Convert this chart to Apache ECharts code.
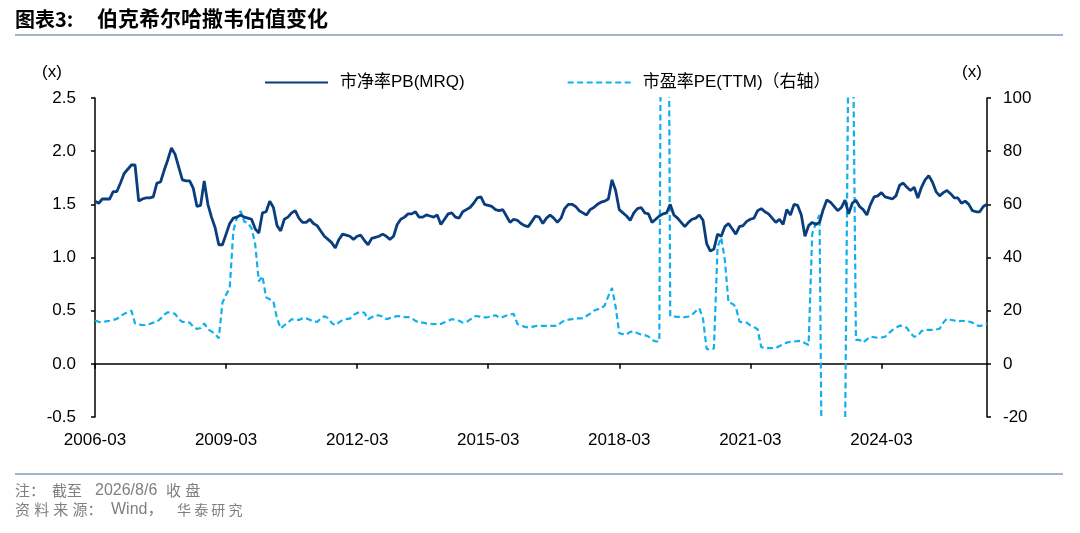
<!DOCTYPE html>
<html>
<head>
<meta charset="utf-8">
<script src="https://cdn.jsdelivr.net/npm/echarts@6/dist/echarts.min.js"></script>
<style>
html,body{margin:0;padding:0;background:#fff;}
#main{width:1080px;height:533px;}
</style>
</head>
<body>
<div id="main"></div>
<script>
// ---- data ----
const startYear = 2006, startMonth = 3, monthCount = 246; // 2006-03 .. 2026-08
const months = [];
for (let i = 0; i < monthCount; i++) {
  const t = (startMonth - 1) + i;
  const y = startYear + Math.floor(t / 12);
  const m = (t % 12) + 1;
  months.push(y + '-' + (m < 10 ? '0' + m : '' + m));
}

const seriesNames = ['市净率PB(MRQ)', '市盈率PE(TTM)（右轴）'];

const pbValues = [
  1.53,1.51,1.55,1.55,1.55,1.62,1.62,1.70,1.79,1.83,1.87,1.87,
  1.53,1.55,1.56,1.56,1.57,1.70,1.71,1.82,1.92,2.03,1.97,1.85,
  1.73,1.72,1.72,1.65,1.48,1.49,1.72,1.50,1.38,1.28,1.12,1.12,
  1.22,1.32,1.37,1.38,1.40,1.38,1.37,1.36,1.27,1.23,1.42,1.43,
  1.53,1.47,1.30,1.25,1.36,1.38,1.42,1.44,1.37,1.33,1.33,1.36,
  1.32,1.30,1.25,1.20,1.17,1.14,1.09,1.17,1.22,1.21,1.20,1.17,
  1.20,1.21,1.16,1.12,1.18,1.19,1.20,1.22,1.20,1.17,1.20,1.31,
  1.36,1.38,1.41,1.41,1.43,1.38,1.38,1.40,1.39,1.38,1.40,1.31,
  1.36,1.41,1.42,1.38,1.37,1.43,1.45,1.47,1.51,1.56,1.57,1.50,
  1.49,1.48,1.45,1.44,1.45,1.39,1.33,1.36,1.35,1.32,1.30,1.29,
  1.34,1.39,1.38,1.32,1.37,1.40,1.37,1.33,1.37,1.46,1.50,1.50,
  1.48,1.44,1.42,1.40,1.45,1.47,1.50,1.52,1.53,1.55,1.73,1.63,
  1.45,1.42,1.39,1.35,1.42,1.46,1.47,1.42,1.41,1.33,1.36,1.39,
  1.41,1.42,1.50,1.40,1.37,1.33,1.29,1.33,1.36,1.37,1.40,1.35,
  1.13,1.06,1.08,1.22,1.20,1.29,1.32,1.27,1.22,1.29,1.30,1.34,
  1.36,1.37,1.44,1.46,1.43,1.41,1.37,1.33,1.36,1.31,1.45,1.40,
  1.50,1.49,1.40,1.20,1.30,1.33,1.31,1.33,1.45,1.54,1.52,1.48,
  1.44,1.47,1.54,1.41,1.51,1.54,1.48,1.45,1.40,1.50,1.57,1.58,
  1.61,1.57,1.56,1.55,1.58,1.68,1.70,1.66,1.63,1.66,1.56,1.66,
  1.73,1.77,1.71,1.62,1.58,1.61,1.63,1.60,1.56,1.56,1.51,1.53,
  1.50,1.44,1.43,1.43,1.48,1.50
];

const peValues = [
  16.3,15.8,15.6,16.0,16.2,16.5,16.9,18.0,18.8,19.5,20.0,15.2,
  14.8,14.6,14.6,15.0,15.5,15.8,17.0,18.5,19.4,19.2,18.8,16.8,
  15.8,15.7,15.5,14.0,13.1,13.5,15.2,13.0,12.2,11.2,9.6,23.0,
  26.0,28.5,50.0,55.0,57.5,53.5,53.0,51.0,45.0,31.0,33.0,25.0,
  24.3,23.5,17.0,13.3,14.5,15.5,16.8,16.5,16.5,17.1,17.1,16.6,
  15.9,15.8,17.0,17.9,17.2,15.4,14.5,15.6,16.5,16.8,17.0,18.4,
  19.1,19.6,19.2,16.8,17.5,18.2,18.2,17.8,16.8,17.2,17.6,18.0,
  17.8,17.6,17.6,17.2,16.2,15.5,15.5,15.2,15.1,14.9,14.9,15.0,
  15.6,16.2,16.8,16.5,16.2,15.5,15.7,16.6,17.8,18.0,17.6,17.5,
  17.6,17.9,18.3,17.4,17.6,18.2,18.6,18.8,15.0,14.5,13.9,13.7,
  13.9,14.2,14.3,14.3,14.3,14.3,14.3,14.3,15.5,16.3,16.6,16.8,
  17.1,17.1,17.1,18.0,18.9,20.0,20.5,20.8,22.0,25.5,28.5,21.5,
  11.5,11.2,11.0,12.0,12.2,11.5,11.0,10.8,10.3,9.0,8.4,8.5,
  300,300,18.0,17.8,17.7,17.6,17.6,17.8,18.5,19.8,20.9,17.0,
  5.6,5.3,5.8,44.0,47.5,39.0,23.0,22.7,21.5,15.9,15.5,15.5,
  14.5,13.8,13.0,6.3,5.9,5.9,5.9,5.9,6.7,7.3,8.0,8.3,
  8.4,8.6,8.5,7.8,7.1,49.0,53.0,56.0,-100,-200,-200,-200,
  -200,-200,-30,130,150,9.0,9.0,8.0,9.2,10.2,10.0,9.8,
  9.9,10.2,11.5,12.7,13.5,14.4,14.2,13.5,11.5,10.2,10.5,12.3,
  12.75,12.75,12.8,12.9,13.2,15.5,17.0,16.6,16.3,15.9,16.2,16.0,
  15.9,15.5,14.5,14.2,14.6,15.3
];

const leftAxisTicks = { min: -0.5, max: 2.5, interval: 0.5 };
const rightAxisTicks = { min: -20, max: 100, interval: 20 };

// ---- chart ----
const FONT = "'Liberation Sans', Arial, 'Noto Sans CJK SC', sans-serif";
const FOOT = "15px 'Liberation Sans', 'Noto Sans CJK SC', sans-serif";
const chart = echarts.init(document.getElementById('main'), null, { renderer: 'canvas' });

function footText(x, y, t, font) {
  return { type: 'text', left: x, top: y, style: { text: t, font: font || FOOT, fill: '#7f7f7f' } };
}

const option = {
  backgroundColor: '#ffffff',
  animation: false,
  textStyle: { fontFamily: FONT },
  grid: { left: 95, right: 93, top: 98, bottom: 116, containLabel: false },
  legend: {
    data: seriesNames,
    left: 259,
    top: 69,
    itemWidth: 63,
    itemHeight: 14,
    itemGap: 102,
    itemStyle: { opacity: 0 },
    textStyle: { fontSize: 17, color: '#000', fontFamily: FONT, padding: [0, 0, 0, 7] }
  },
  graphic: [
    { type: 'text', left: 15, top: 9, style: { text: '图表3:', font: "bold 20px 'Noto Sans CJK SC', sans-serif", fill: '#000' } },
    { type: 'text', left: 97, top: 8, style: { text: '伯克希尔哈撒韦估值变化', font: "bold 21px 'Noto Sans CJK SC', sans-serif", fill: '#000' } },
    { type: 'line', shape: { x1: 15, y1: 35, x2: 1063, y2: 35 }, style: { stroke: '#9fb6cd', lineWidth: 2 } },
    { type: 'line', shape: { x1: 15, y1: 474, x2: 1063, y2: 474 }, style: { stroke: '#9fb6cd', lineWidth: 2 } },
    footText(15, 484, '注：'),
    footText(52, 484, '截至'),
    footText(95, 483, '2026/8/6', "16px 'Liberation Sans', sans-serif"),
    footText(166, 484, '收 盘'),
    footText(15, 503, '资 料 来 源：'),
    footText(111, 502, 'Wind，', "16px 'Liberation Sans', 'Noto Sans CJK SC', sans-serif"),
    footText(177, 503, '华 泰 研 究', "14px 'Noto Sans CJK SC', sans-serif"),
    { type: 'text', left: 42, top: 64, style: { text: '(x)', font: "17px 'Liberation Sans', sans-serif", fill: '#000' } },
    { type: 'text', left: 962, top: 64, style: { text: '(x)', font: "17px 'Liberation Sans', sans-serif", fill: '#000' } }
  ],
  xAxis: {
    type: 'category',
    data: months,
    boundaryGap: false,
    axisLine: { show: true, onZero: true, onZeroAxisIndex: 0, lineStyle: { color: '#000', width: 1.5 } },
    axisTick: { show: true, interval: 35, length: 5, lineStyle: { color: '#000', width: 1.5 } },
    axisLabel: { interval: 35, margin: 15, fontSize: 17, color: '#000', fontFamily: FONT },
    splitLine: { show: false }
  },
  yAxis: [
    {
      type: 'value',
      position: 'left',
      min: leftAxisTicks.min, max: leftAxisTicks.max, interval: leftAxisTicks.interval,
      axisLine: { show: true, lineStyle: { color: '#000', width: 1.5 } },
      axisTick: { show: true, length: 4, lineStyle: { color: '#000', width: 1.5 } },
      axisLabel: { fontSize: 17, color: '#000', margin: 19, fontFamily: FONT, formatter: v => v.toFixed(1) },
      splitLine: { show: false }
    },
    {
      type: 'value',
      position: 'right',
      min: rightAxisTicks.min, max: rightAxisTicks.max, interval: rightAxisTicks.interval,
      axisLine: { show: true, lineStyle: { color: '#000', width: 1.5 } },
      axisTick: { show: true, length: 4, lineStyle: { color: '#000', width: 1.5 } },
      axisLabel: { fontSize: 17, color: '#000', margin: 16, fontFamily: FONT },
      splitLine: { show: false }
    }
  ],
  series: [
    {
      name: seriesNames[0],
      type: 'line',
      yAxisIndex: 0,
      data: pbValues,
      symbol: 'none',
      clip: true,
      lineStyle: { color: '#0a3d7e', width: 2.8 },
      itemStyle: { color: '#0a3d7e' },
      z: 3
    },
    {
      name: seriesNames[1],
      type: 'line',
      yAxisIndex: 1,
      data: peValues,
      symbol: 'none',
      clip: true,
      lineStyle: { color: '#10b0ec', width: 2.2, type: [6, 3.5] },
      itemStyle: { color: '#10b0ec' },
      z: 2
    }
  ]
};
chart.setOption(option);
</script>
</body>
</html>
